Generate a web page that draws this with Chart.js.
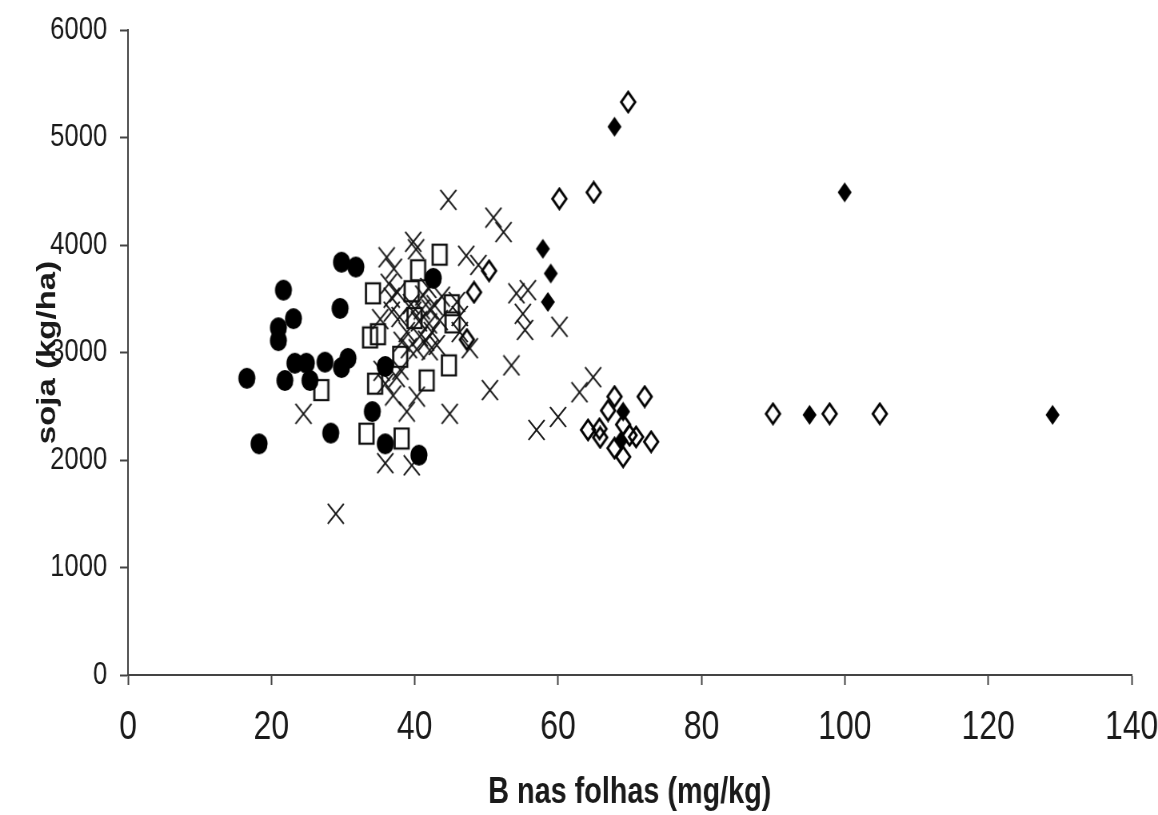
<!DOCTYPE html>
<html>
<head>
    <meta charset='utf-8'>
    <title>soja x B nas folhas</title>
    <script src="https://cdn.jsdelivr.net/npm/chart.js@4.4.1/dist/chart.umd.min.js"></script>
    <style>
        body { margin: 0; background: #fff; }
    </style>
</head>
<body>
    <!-- canvas mais largo por dentro e comprimido na tela: texto estreito como no original -->
    <canvas id="grafico" width="1448" height="815" style="width:1158px; height:815px;"></canvas>
<script>

// tick labels
const xTicks = [0, 20, 40, 60, 80, 100, 120, 140]
const yTicks = [0, 1000, 2000, 3000, 4000, 5000, 6000]

// círculos cheios
const circX = [16.6, 18.3, 21.7, 23.1, 21.0, 21.0, 21.9, 23.3, 24.9, 25.4, 27.5, 28.3, 29.8, 31.8, 29.6, 30.7, 29.8, 35.9, 34.1, 35.9, 40.6, 42.6]
const circY = [2760, 2150, 3580, 3315, 3230, 3110, 2740, 2900, 2900, 2740, 2910, 2250, 3840, 3795, 3410, 2945, 2860, 2870, 2450, 2150, 2045, 3690]

// quadrados vazios
const quadX = [43.5, 40.5, 34.2, 39.6, 45.2, 45.3, 40.0, 34.9, 33.8, 38.0, 34.5, 41.7, 44.8, 33.3, 38.2, 27.0]
const quadY = [3910, 3765, 3550, 3570, 3440, 3280, 3320, 3170, 3140, 2960, 2710, 2740, 2880, 2245, 2200, 2650]

// losangos vazios
const losX = [69.8, 60.2, 65.0, 50.4, 48.3, 47.3, 67.9, 67.0, 72.1, 64.2, 65.8, 69.1, 70.0, 70.9, 73.0, 67.9, 69.1, 65.9, 90.0, 97.9, 104.9]
const losY = [5330, 4430, 4490, 3760, 3560, 3120, 2590, 2460, 2590, 2280, 2290, 2330, 2230, 2215, 2170, 2110, 2030, 2210, 2430, 2430, 2430]

// losangos cheios
const losCheioX = [67.9, 100.0, 57.9, 59.0, 58.6, 69.1, 68.8, 95.1, 129.0]
const losCheioY = [5100, 4490, 3965, 3735, 3470, 2450, 2180, 2420, 2420]

// cruzes
const cruzX = [44.7, 51.0, 52.4, 39.8, 40.2, 36.1, 37.1, 36.4, 36.8, 36.8, 35.2, 47.2, 48.9, 41.2, 41.9, 42.1, 40.6, 38.9, 40.7, 41.6,
    42.4, 43.1, 40.3, 38.2, 45.9, 46.3, 46.3, 47.7, 54.2, 55.8, 55.1, 55.4, 60.2, 53.5, 50.5, 44.9, 57.0, 60.0, 63.0, 64.9,
    24.5, 29.0, 35.9, 39.6, 38.9, 40.3, 37.0, 35.9, 37.5, 38.0, 42.1, 35.4, 39.5, 43.5, 37.9, 41.0, 42.0, 39.8,
    37.6, 43.8, 39.2, 42.8]
const cruzY = [4420, 4255, 4120, 4030, 3960, 3885, 3780, 3640, 3510, 3380, 3310, 3900, 3815, 3530, 3600, 3400, 3290, 3190, 3150, 3110,
    3190, 3070, 3030, 3100, 3470, 3340, 3190, 3040, 3550, 3580, 3360, 3210, 3240, 2880, 2650, 2430, 2280, 2400, 2630, 2770,
    2430, 1500, 1970, 1950, 2450, 2590, 2600, 2710, 2770, 2840, 3020, 2830, 3450, 3300, 3330, 3400, 3270, 3380,
    3560, 3520, 3040, 3440]

const pontos = (xs, ys) => xs.map((x, i) => ({x: x, y: ys[i]}))

// fator horizontal da tela (1158 / 1448)
const K = 1448 / 1158

// marcadores desenhados num canvas pequeno (largura já esticada por K)
function marcador(w, h, desenha) {
    const c = document.createElement('canvas')
    c.width = Math.round(w * K)
    c.height = h
    const ctx = c.getContext('2d')
    ctx.scale(K, 1)
    desenha(ctx, w, h)
    return c
}

const circulo = marcador(19, 23, (ctx, w, h) => {
    ctx.fillStyle = '#000'
    ctx.beginPath()
    ctx.ellipse(w / 2, h / 2, 8.5, 10.5, 0, 0, Math.PI * 2)
    ctx.fill()
})
const quadrado = marcador(18, 24, (ctx, w, h) => {
    ctx.strokeStyle = '#111'
    ctx.lineWidth = 2.2
    ctx.strokeRect(2, 2, 14, 20)
})
const cruz = marcador(19, 22, (ctx, w, h) => {
    ctx.strokeStyle = '#111'
    ctx.lineWidth = 1.7
    ctx.beginPath()
    ctx.moveTo(1.5, 1); ctx.lineTo(17.5, 21)
    ctx.moveTo(17.5, 1); ctx.lineTo(1.5, 21)
    ctx.stroke()
})
function losango(cheio) {
    return marcador(18, 24, (ctx, w, h) => {
        ctx.beginPath()
        ctx.moveTo(9, 2); ctx.lineTo(16, 12); ctx.lineTo(9, 22); ctx.lineTo(2, 12)
        ctx.closePath()
        if (cheio) {
            ctx.fillStyle = '#000'
            ctx.fill()
        } else {
            ctx.strokeStyle = '#000'
            ctx.lineWidth = 2.4
            ctx.stroke()
        }
    })
}

const fonte = "'Liberation Sans', Arial, sans-serif"

new Chart(document.getElementById('grafico'), {
    type: 'scatter',
    data: {
        datasets: [
            { data: pontos(circX, circY), pointStyle: circulo },
            { data: pontos(losCheioX, losCheioY), pointStyle: losango(true) },
            { data: pontos(losX, losY), pointStyle: losango(false) },
            { data: pontos(quadX, quadY), pointStyle: quadrado },
            { data: pontos(cruzX, cruzY), pointStyle: cruz }
        ]
    },
    options: {
        responsive: false,
        animation: false,
        layout: { padding: { top: 30, right: 33, left: 0, bottom: 0 } },
        plugins: { legend: { display: false }, tooltip: { enabled: false } },
        scales: {
            x: {
                type: 'linear',
                min: 0,
                max: 140,
                afterBuildTicks: s => { s.ticks = xTicks.map(v => ({value: v})) },
                afterFit: s => { s.height = 140; s.paddingLeft = 0; s.paddingRight = 0 },
                border: { display: true, color: '#444', width: 2 },
                grid: { drawOnChartArea: false, drawTicks: true, tickLength: 10, tickColor: '#444', tickWidth: 2 },
                ticks: { color: '#1a1a1a', padding: 19, font: { family: fonte, size: 40 }, callback: v => String(v) },
                title: {
                    display: true,
                    text: 'B nas folhas (mg/kg)',
                    color: '#1a1a1a',
                    font: { family: fonte, size: 36, weight: 'bold' },
                    padding: { top: 0, bottom: 0 }
                }
            },
            y: {
                type: 'linear',
                min: 0,
                max: 6000,
                afterBuildTicks: s => { s.ticks = yTicks.map(v => ({value: v})) },
                afterFit: s => { s.width = 160; s.paddingTop = 0; s.paddingBottom = 0 },
                border: { display: true, color: '#444', width: 2 },
                grid: { drawOnChartArea: false, drawTicks: true, tickLength: 10, tickColor: '#444', tickWidth: 2 },
                ticks: { color: '#1a1a1a', padding: 16, font: { family: fonte, size: 32 }, callback: v => String(v) },
                title: {
                    display: true,
                    text: 'soja (kg/ha)',
                    color: '#1a1a1a',
                    font: { family: fonte, size: 33, weight: 'bold' },
                    padding: { top: 40, bottom: 0 }
                }
            }
        }
    }
});

</script>
</body>
</html>
